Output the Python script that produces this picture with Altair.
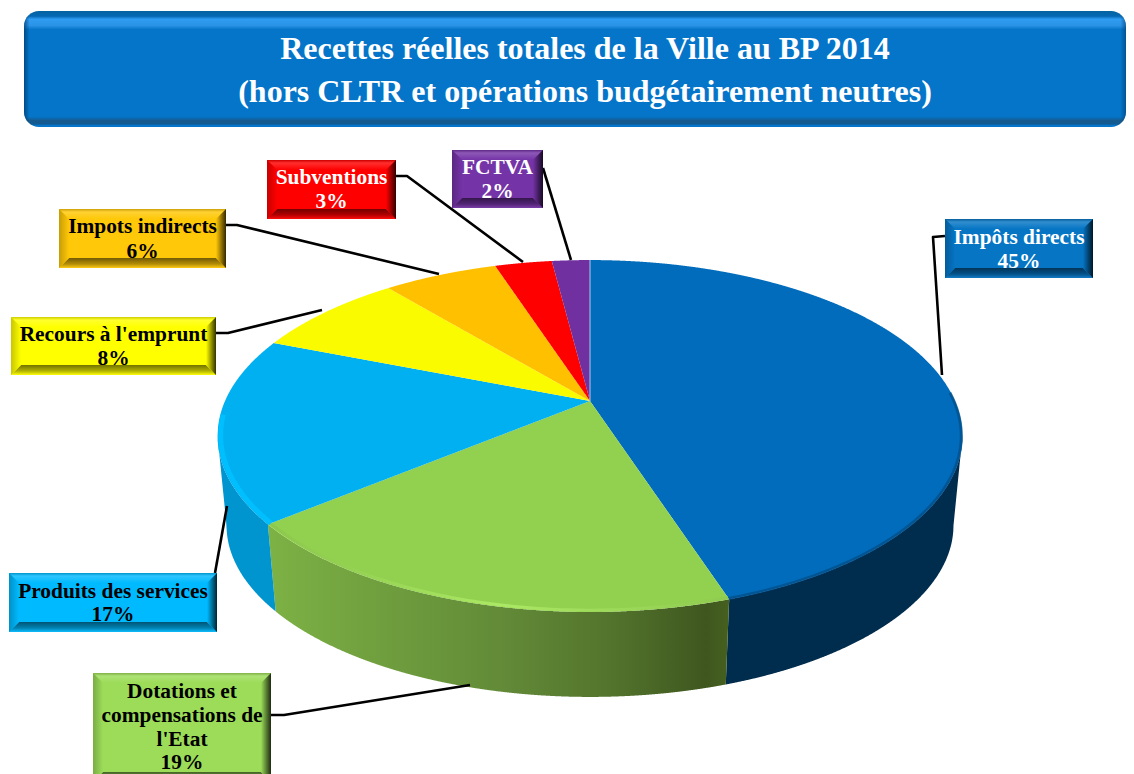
import altair as alt
import numpy as np
import pandas as pd

# ---------- data ----------
title_lines = ["Recettes réelles totales de la Ville au BP 2014",
               "(hors CLTR et opérations budgétairement neutres)"]
categories = ["Impôts directs", "Dotations et compensations de l'Etat", "Produits des services",
              "Recours à l'emprunt", "Impots indirects", "Subventions", "FCTVA"]
shares = [45, 19, 17, 8, 6, 3, 2]
label_lines = [["Impôts directs", "45%"],
               ["Dotations et", "compensations de", "l'Etat", "19%"],
               ["Produits des services", "17%"],
               ["Recours à l'emprunt", "8%"],
               ["Impots indirects", "6%"],
               ["Subventions", "3%"],
               ["FCTVA", "2%"]]
slice_colors = ["#006CBB", "#92D050", "#00B0F0", "#FBFB00", "#FFC000", "#FF0000", "#7030A0"]
box_colors = ["#0575C4", "#9CDC58", "#00BAFF", "#FFFF00", "#FFC808", "#FF0000", "#7433A6"]
text_colors = ["white", "black", "black", "black", "black", "white", "white"]

# ---------- layout (page pixels) ----------
RIGHT, H = 1126, 774
boxes = [(945, 1093, 219, 278), (93, 271, 673, 782), (9, 217, 573, 632), (11, 216, 317, 375),
         (59, 226, 209, 268), (267, 396, 160, 219), (452, 543, 150, 208)]
text_rows = [[238, 262], [692, 716, 740, 763], [592, 615], [335, 359], [227, 252], [178, 202], [168, 192]]
leaders = [[(945, 236), (933, 237), (942, 375)],
           [(271, 715), (284, 715), (470, 685)],
           [(215, 573), (227, 506)],
           [(216, 333), (228, 333), (322, 310)],
           [(226, 225), (237, 225), (439, 274)],
           [(396, 176), (407, 176), (523, 262)],
           [(543, 168), (571, 260)]]
BEVEL = 10
CX, APEX_Y, A, B, K = 590, 401, 365, 169, 0.199
WALL_S, WALL_Y = 0.976, 491

xs_scale = alt.Scale(domain=[8, RIGHT], nice=False, zero=False)
ys_scale = alt.Scale(domain=[H, 8], nice=False, zero=False)
X = alt.X("x:Q", scale=xs_scale, axis=None)
Y = alt.Y("y:Q", scale=ys_scale, axis=None, stack=None)
X2 = alt.X2("x2:Q")
Y2 = alt.Y2("y2:Q")


def project(theta, r=1.0, s=1.0, cy=APEX_Y):
    u, v = r * np.sin(theta), -r * np.cos(theta)
    d = 1 - K * v
    return CX + s * A * u / d, cy + s * B * v / d


def arc(t0, t1, **kw):
    t = np.linspace(t0, t1, 90)
    px, py = project(t, **kw)
    return list(zip(px, py))


def band(poly, color):
    """Fill a polygon that any vertical line cuts once, using the area mark."""
    p = np.array(poly + [poly[0]])
    lo, hi = p[:, 0].min(), p[:, 0].max()
    grid = np.unique(np.r_[np.arange(lo, hi, 0.5), hi, poly[0][0], poly[-1][0]])
    rows = []
    for x in grid:
        hits = []
        for (x0, y0), (x1, y1) in zip(p[:-1], p[1:]):
            if min(x0, x1) <= x <= max(x0, x1):
                if x1 == x0:
                    hits += [y0, y1]
                else:
                    hits.append(y0 + (x - x0) / (x1 - x0) * (y1 - y0))
        if hits:
            rows.append({"x": x, "y": min(hits), "y2": max(hits)})
    return alt.Chart(pd.DataFrame(rows)).mark_area(color=color, clip=True, interpolate="linear").encode(
        x=X, y=Y, y2=Y2)


def polyline(pts, **mk):
    d = pd.DataFrame({"x": [p[0] for p in pts], "y": [p[1] for p in pts], "i": range(len(pts))})
    return alt.Chart(d).mark_line(clip=True, **mk).encode(x=X, y=Y, order=alt.Order("i:Q"))


def rect(x0, x1, y0, y1, color, radius=0):
    d = pd.DataFrame([{"x": x0, "x2": x1, "y": y0, "y2": y1}])
    return alt.Chart(d).mark_rect(color=color, cornerRadius=radius, clip=True).encode(x=X, x2=X2, y=Y, y2=Y2)


def grad(stops, horizontal=False):
    return alt.Gradient(gradient="linear",
                        stops=[alt.GradientStop(offset=o, color=c) for o, c in stops],
                        x1=0, x2=1 if horizontal else 0, y1=0, y2=0 if horizontal else 1)


def mix(c, other, t):
    a = [int(c[i:i + 2], 16) for i in (1, 3, 5)]
    b = [int(other[i:i + 2], 16) for i in (1, 3, 5)]
    return "#" + "".join(f"{round(p + (q - p) * t):02x}" for p, q in zip(a, b))


layers = []

# ---------- banner ----------
layers.append(rect(24, RIGHT, 11, 127, grad([
    (0, "#04639f"), (0.045, "#0568b4"), (0.07, "#2f9df2"), (0.125, "#2a93e6"), (0.16, "#0575c9"),
    (0.91, "#0575c9"), (0.945, "#155a8e"), (0.975, "#115a92"), (0.985, "#0575c9"), (1, "#0575c9")]), 15))
layers.append(rect(24, RIGHT, 11, 127, grad([
    (0, "rgba(0,60,110,0.75)"), (0.005, "rgba(0,60,110,0)"), (0.995, "rgba(0,60,110,0)"),
    (1, "rgba(0,60,110,0.6)")], True), 15))
for line, y in zip(title_lines, [49, 92]):
    layers.append(alt.Chart(pd.DataFrame([{"x": 585, "y": y, "t": line}])).mark_text(
        font="Liberation Serif", fontWeight="bold", fontSize=32, color="white", baseline="middle", align="center"
    ).encode(x=X, y=Y, text="t:N"))

# ---------- pie ----------
edges = 2 * np.pi * np.cumsum([0] + shares) / sum(shares)
right_ext = np.arccos(-K)
left_ext = 2 * np.pi - right_ext


def wall(t0, t1, color):
    top = arc(t0, t1)
    bottom = arc(t1, t0, s=WALL_S, cy=WALL_Y)
    return band(top + bottom, color)


layers.append(wall(right_ext, edges[1], "#002C4E"))
layers.append(wall(edges[1], edges[2], grad([
    (0, "#7DB245"), (0.25, "#6F9E3E"), (0.5, "#638B38"), (0.75, "#52732C"), (0.95, "#3F571F"), (1, "#46601F")
], True)))
layers.append(wall(edges[2], left_ext, "#0095CE"))

for i, color in enumerate(slice_colors):
    wedge = [(CX, APEX_Y)] + arc(edges[i], edges[i + 1])
    layers.append(band(wedge, color))

# soft rim where the top meets the wall
layers.append(polyline(arc(right_ext - 0.25, edges[1], r=0.997), stroke="#004C85", strokeWidth=3, opacity=0.7))
layers.append(polyline(arc(edges[1], edges[2], r=0.993), strokeWidth=3,
                       stroke=grad([(0, "#8CC84C"), (0.15, "#93D052"), (0.5, "#ABE863"), (1, "#8FCB50")], True)))
layers.append(polyline(arc(edges[2], left_ext + 0.12, r=0.992), stroke="#00BFFF", strokeWidth=5))

# thin seam at twelve o'clock
px0, py0 = project(np.array(0.0))
layers.append(polyline([(CX, APEX_Y), (float(px0), float(py0))], stroke="#A9CBEA", strokeWidth=1))

# ---------- leaders ----------
for pts in leaders:
    layers.append(polyline(pts, stroke="black", strokeWidth=2.6, strokeJoin="round"))

# ---------- label boxes ----------
for (x0, x1, y0, y1), col, rows, lines, tcol in zip(boxes, box_colors, text_rows, label_lines, text_colors):
    b = BEVEL
    layers.append(rect(x0, x1, y0, y1, col))
    layers.append(band([(x0, y0), (x1, y0), (x1 - b, y0 + b), (x0 + b, y0 + b)],
                       grad([(0, mix(col, "#000000", 0.2)), (0.3, mix(col, "#ffffff", 0.18)), (1, col)])))
    layers.append(band([(x0, y1), (x0 + b, y1 - b), (x1 - b, y1 - b), (x1, y1)],
                       grad([(0, mix(col, "#000000", 0.55)), (0.6, mix(col, "#000000", 0.3)), (1, mix(col, "#ffffff", 0.05))])))
    layers.append(band([(x0, y0), (x0 + b, y0 + b), (x0 + b, y1 - b), (x0, y1)],
                       grad([(0, mix(col, "#000000", 0.22)), (1, col)], True)))
    layers.append(band([(x1, y0), (x1, y1), (x1 - b, y1 - b), (x1 - b, y0 + b)],
                       grad([(0, col), (1, mix(col, "#000000", 0.8))], True)))
    mid = (x0 + x1) / 2
    for line, y in zip(lines, rows):
        layers.append(alt.Chart(pd.DataFrame([{"x": mid, "y": y, "t": line}])).mark_text(
            font="Liberation Serif", fontWeight="bold", fontSize=21.4, color=tcol, baseline="middle", align="center"
        ).encode(x=X, y=Y, text="t:N"))

chart = alt.layer(*layers).properties(
    width=RIGHT - 8, height=H - 8, padding=0, autosize=alt.AutoSizeParams(type="none")
).configure_view(stroke=None)

chart.save("out.html", embed_options={"renderer": "svg", "actions": False})
